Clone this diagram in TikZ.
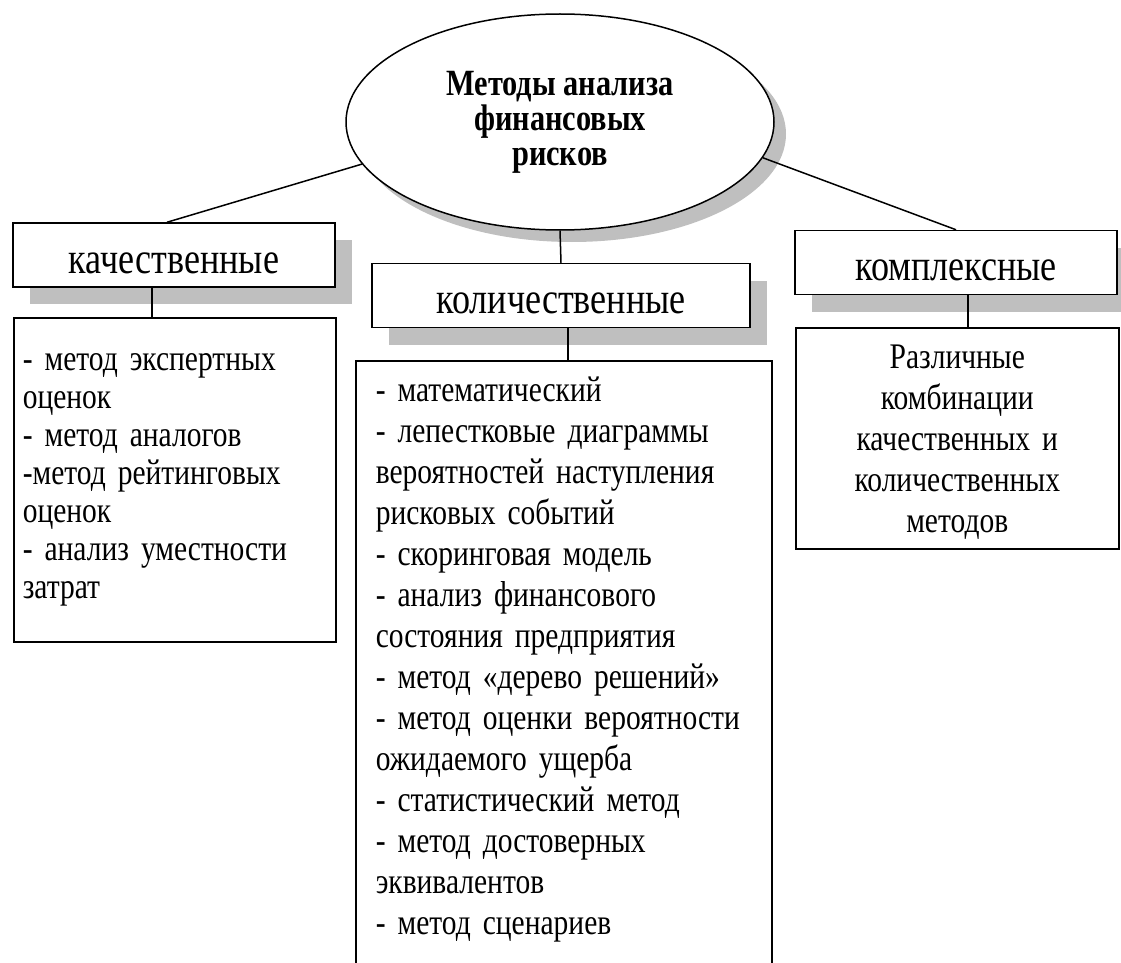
\documentclass[tikz,border=0pt]{standalone}
\usepackage{fontspec}
\setmainfont{Liberation Serif}[FakeStretch=0.82]
\usetikzlibrary{shapes.geometric,shadows}

\newcommand\tightspace{\spaceskip=7pt plus 2pt minus 1pt\relax}

\tikzset{
  grayshadow/.style={drop shadow={shadow xshift=#1, shadow yshift=-#1, fill=black!25, opacity=1}},
  headbox/.style={draw, fill=white, grayshadow=17pt, inner sep=0pt,
    text height=50pt, text depth=14pt, minimum width=322pt,
    font=\fontsize{44}{48}\selectfont},
  bodybox/.style={draw, fill=white, anchor=north west, inner ysep=0pt,
    font=\fontsize{36}{38}\selectfont\tightspace},
}

\begin{document}
\begin{tikzpicture}[x=1pt, y=-1pt, line width=1.5pt]
  \useasboundingbox (0,0) rectangle (1121,963);
  \clip (0,0) rectangle (1121,963);

  % top ellipse
  \node[ellipse, draw, fill=white, grayshadow=12pt, minimum width=428pt, minimum height=216pt,
    inner sep=0pt, align=center, font=\bfseries\fontsize{37}{35}\selectfont]
    (titel) at (560,122) {Методы анализа\\финансовых\\рисков};

  % group headers
  \node[headbox] (kach) at (174,255) {качественные};
  \node[headbox, minimum width=378pt] (kol) at (561,295.5) {количественные};
  \node[headbox] (kompl) at (956,262.5) {комплексные};

  % lists
  \node[bodybox, text width=304pt, inner xsep=9pt, text height=53pt, text depth=271pt, align=left]
    (kachbody) at (13,317) {- метод экспертных\\оценок\\- метод аналогов\\-метод рейтинговых\\оценок\\- анализ уместности\\затрат};
  \node[bodybox, text width=376pt, inner xsep=20pt, text height=41pt, text depth=600pt, align=left,
    font=\fontsize{36}{41}\selectfont\tightspace]
    (kolbody) at (355,360) {- математический\\- лепестковые диаграммы\\вероятностей наступления\\рисковых событий\\- скоринговая модель\\- анализ финансового\\состояния предприятия\\- метод «дерево решений»\\- метод оценки вероятности\\ожидаемого ущерба\\- статистический метод\\- метод достоверных\\эквивалентов\\- метод сценариев};
  \node[bodybox, text width=303pt, inner xsep=10pt, text height=41pt, text depth=180pt, align=center,
    font=\fontsize{36}{41}\selectfont\tightspace]
    (komplbody) at (795,327) {Различные\\комбинации\\качественных и\\количественных\\методов};

  % connectors
  \draw (titel.192) -- ([xshift=-7pt]kach.north);
  \draw (titel.south) -- (kol.north);
  \draw (titel.-10) -- (kompl.north);
  \draw ([xshift=-22pt]kach.south) -- ([xshift=-22pt]kach.south |- kachbody.north);
  \draw ([xshift=7pt]kol.south) -- ([xshift=7pt]kol.south |- kolbody.north);
  \draw ([xshift=12pt]kompl.south) -- ([xshift=12pt]kompl.south |- komplbody.north);
\end{tikzpicture}
\end{document}
